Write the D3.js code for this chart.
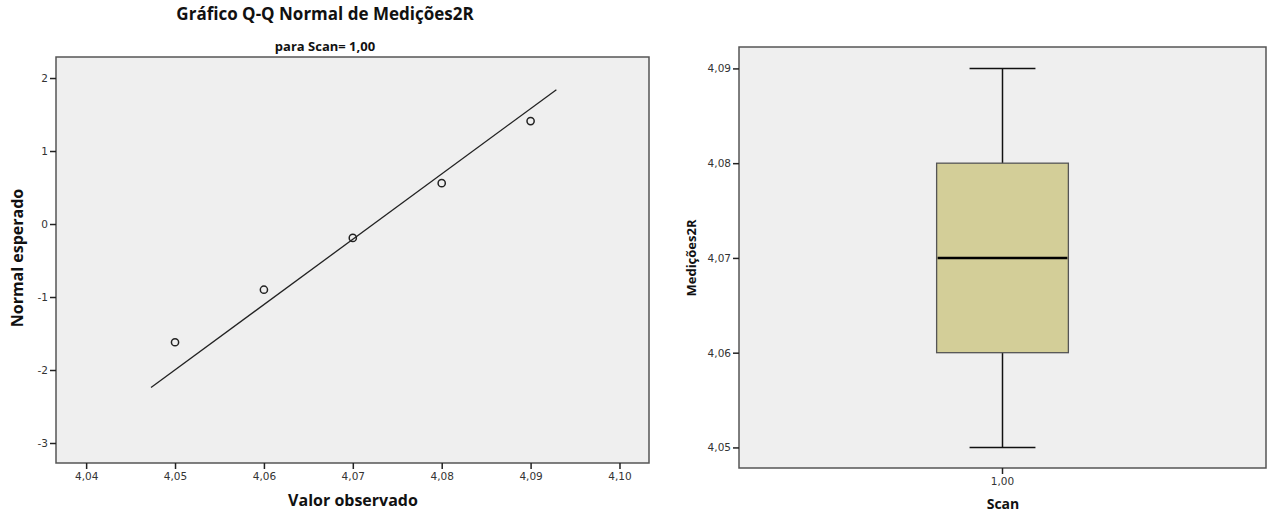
<!DOCTYPE html>
<html>
<head>
<meta charset="utf-8">
<script src="https://cdn.jsdelivr.net/npm/d3@7"></script>
<style>
  body { margin: 0; background: #fff; }
  .tick text { font-family: "DejaVu Sans", sans-serif; font-size: 10.5px; fill: #333; }
  .ttl { font-family: "Open Sans", sans-serif; font-weight: bold; fill: #111; }
</style>
</head>
<body>
<div id="container"></div>
<script>
// Q-Q plot data
const observed = [4.05, 4.06, 4.07, 4.08, 4.09];
const expected = [-1.62, -0.90, -0.19, 0.56, 1.41];
const refLineX = [4.0473, 4.0929];
const refLineY = [-2.24, 1.84];
const qqXTicks = [4.04, 4.05, 4.06, 4.07, 4.08, 4.09, 4.10];
const qqYTicks = [-3, -2, -1, 0, 1, 2];

// boxplot data
const scanCategories = ["1,00"];
const boxStats = [{ min: 4.05, q1: 4.06, median: 4.07, q3: 4.08, max: 4.09 }];
const boxYTicks = [4.05, 4.06, 4.07, 4.08, 4.09];

const width = 1267;
const height = 514;

const ptBR = d3.formatLocale({ decimal: ",", thousands: ".", grouping: [3], currency: ["", ""] });
const fmt2 = ptBR.format(".2f");

let svg = d3.select("#container").append("svg")
    .attr("width", width)
    .attr("height", height);

function styleAxis(g) {
    g.select(".domain").remove();
    g.selectAll(".tick line").attr("stroke", "#222").attr("stroke-width", 1.5);
}

// ---------- left: Q-Q plot ----------
let x = d3.scaleLinear().domain([4.03661, 4.10332]).range([56, 649]);
let y = d3.scaleLinear().domain([-3.274, 2.288]).range([463, 57]);

svg.append("rect")
    .attr("x", 56).attr("y", 57)
    .attr("width", 649 - 56).attr("height", 463 - 57)
    .attr("fill", "#efefef")
    .attr("stroke", "#555")
    .attr("stroke-width", 1.5);

svg.append("g")
    .attr("transform", "translate(0,463)")
    .call(d3.axisBottom(x).tickValues(qqXTicks).tickSize(6).tickPadding(4).tickFormat(fmt2))
    .call(styleAxis);

svg.append("g")
    .attr("transform", "translate(56,0)")
    .call(d3.axisLeft(y).tickValues(qqYTicks).tickSize(6).tickPadding(2).tickFormat(d => String(d)))
    .call(styleAxis);

svg.append("line")
    .attr("x1", x(refLineX[0])).attr("y1", y(refLineY[0]))
    .attr("x2", x(refLineX[1])).attr("y2", y(refLineY[1]))
    .attr("stroke", "#222")
    .attr("stroke-width", 1.3);

svg.append("g")
    .selectAll("circle")
    .data(observed)
    .join("circle")
    .attr("cx", d => x(d))
    .attr("cy", (d, i) => y(expected[i]))
    .attr("r", 3.6)
    .attr("fill", "none")
    .attr("stroke", "#222")
    .attr("stroke-width", 1.5);

svg.append("text").attr("class", "ttl")
    .attr("x", 325).attr("y", 20)
    .attr("text-anchor", "middle")
    .attr("font-size", 17)
    .text("Gráfico Q-Q Normal de Medições2R");

svg.append("text").attr("class", "ttl")
    .attr("x", 325).attr("y", 51)
    .attr("text-anchor", "middle")
    .attr("font-size", 13)
    .text("para Scan= 1,00");

svg.append("text").attr("class", "ttl")
    .attr("x", 353).attr("y", 506)
    .attr("text-anchor", "middle")
    .attr("font-size", 16)
    .text("Valor observado");

svg.append("text").attr("class", "ttl")
    .attr("transform", "translate(23,258) rotate(-90)")
    .attr("text-anchor", "middle")
    .attr("font-size", 16)
    .text("Normal esperado");

// ---------- right: boxplot ----------
let bx = d3.scaleBand().domain(scanCategories).range([739, 1266]).paddingInner(0).paddingOuter(1.5);
let by = d3.scaleLinear().domain([4.04783, 4.09226]).range([468, 47]);

svg.append("rect")
    .attr("x", 739).attr("y", 47)
    .attr("width", 1266 - 739).attr("height", 468 - 47)
    .attr("fill", "#efefef")
    .attr("stroke", "#555")
    .attr("stroke-width", 1.5);

svg.append("g")
    .attr("transform", "translate(0,468)")
    .call(d3.axisBottom(bx).tickSize(6).tickPadding(4))
    .call(styleAxis);

svg.append("g")
    .attr("transform", "translate(739,0)")
    .call(d3.axisLeft(by).tickValues(boxYTicks).tickSize(6).tickPadding(2).tickFormat(fmt2))
    .call(styleAxis);

let box = svg.append("g")
    .selectAll("g")
    .data(boxStats)
    .join("g");

const cx = (d, i) => bx(scanCategories[i]) + bx.bandwidth() / 2;

// whiskers
box.append("line")
    .attr("x1", cx).attr("x2", cx)
    .attr("y1", d => by(d.max)).attr("y2", d => by(d.q3))
    .attr("stroke", "#111").attr("stroke-width", 1.5);
box.append("line")
    .attr("x1", cx).attr("x2", cx)
    .attr("y1", d => by(d.q1)).attr("y2", d => by(d.min))
    .attr("stroke", "#111").attr("stroke-width", 1.5);
box.append("line")
    .attr("x1", (d, i) => cx(d, i) - bx.bandwidth() / 4)
    .attr("x2", (d, i) => cx(d, i) + bx.bandwidth() / 4)
    .attr("y1", d => by(d.max)).attr("y2", d => by(d.max))
    .attr("stroke", "#111").attr("stroke-width", 1.5);
box.append("line")
    .attr("x1", (d, i) => cx(d, i) - bx.bandwidth() / 4)
    .attr("x2", (d, i) => cx(d, i) + bx.bandwidth() / 4)
    .attr("y1", d => by(d.min)).attr("y2", d => by(d.min))
    .attr("stroke", "#111").attr("stroke-width", 1.5);

box.append("rect")
    .attr("x", (d, i) => bx(scanCategories[i]))
    .attr("y", d => by(d.q3))
    .attr("width", bx.bandwidth())
    .attr("height", d => by(d.q1) - by(d.q3))
    .attr("fill", "#d3ce98")
    .attr("stroke", "#555")
    .attr("stroke-width", 1.3);

box.append("line")
    .attr("x1", (d, i) => bx(scanCategories[i]) + 1)
    .attr("x2", (d, i) => bx(scanCategories[i]) + bx.bandwidth() - 1)
    .attr("y1", d => by(d.median)).attr("y2", d => by(d.median))
    .attr("stroke", "#000").attr("stroke-width", 2.6);

svg.append("text").attr("class", "ttl")
    .attr("x", 1003).attr("y", 509)
    .attr("text-anchor", "middle")
    .attr("font-size", 14)
    .text("Scan");

svg.append("text").attr("class", "ttl")
    .attr("transform", "translate(696,258) rotate(-90)")
    .attr("text-anchor", "middle")
    .attr("font-size", 13)
    .text("Medições2R");
</script>
</body>
</html>
